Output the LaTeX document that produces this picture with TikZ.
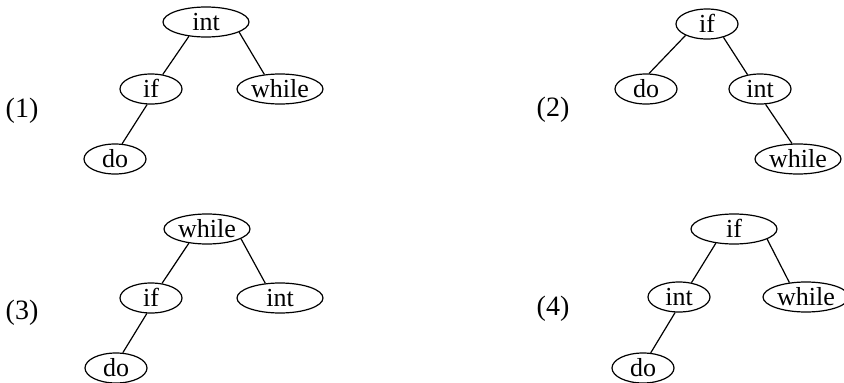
\documentclass[tikz,border=0pt]{standalone}
\usepackage{fontspec}
\setmainfont{Liberation Serif}
\usetikzlibrary{shapes.geometric}
\begin{document}
\begin{tikzpicture}[x=1pt,y=-1pt,
  tn/.style={draw, ellipse, line width=1.2pt, inner sep=0pt, minimum height=30pt,
    font=\fontsize{26}{30}\selectfont, text height=17pt, text depth=0pt},
  wide/.style={tn, minimum width=86pt},
  narrow/.style={tn, minimum width=62pt},
  lbl/.style={font=\fontsize{28}{32}\selectfont, inner sep=0pt},
  edge/.style={line width=1.2pt}]
\useasboundingbox (0,0) rectangle (844,383);

% Tree (1)
\node[lbl] (l1) at (22,111) {(1)};
\node[wide]   (a1) at (206,22)  {int};
\node[narrow] (b1) at (151,89)  {if};
\node[wide]   (c1) at (280,89)  {while};
\node[narrow] (d1) at (115,159) {do};
\draw[edge] (a1.220) -- (b1.51);
\draw[edge] (a1.343) -- (c1.137);
\draw[edge] (b1.256) -- (d1.65);

% Tree (2)
\node[lbl] (l2) at (553,110) {(2)};
\node[narrow] (a2) at (707,24)  {if};
\node[narrow] (b2) at (646,89)  {do};
\node[narrow] (c2) at (760,89)  {int};
\node[wide]   (d2) at (798,159) {while};
\draw[edge] (a2.208) -- (b2.79);
\draw[edge] (a2.321) -- (c2.131);
\draw[edge] (c2.290) -- (d2.111);

% Tree (3)
\node[lbl] (l3) at (22,313) {(3)};
\node[wide]   (a3) at (207,229) {while};
\node[narrow] (b3) at (151,298) {if};
\node[wide]   (c3) at (280,298) {int};
\node[narrow] (d3) at (116,368) {do};
\draw[edge] (a3.218) -- (b3.53);
\draw[edge] (a3.344) -- (c3.135);
\draw[edge] (b3.255) -- (d3.66);

% Tree (4)
\node[lbl] (l4) at (553,309) {(4)};
\node[wide]   (a4) at (734,229) {if};
\node[narrow] (b4) at (679,297) {int};
\node[wide]   (c4) at (806,297) {while};
\node[narrow] (d4) at (643,368) {do};
\draw[edge] (a4.218) -- (b4.49);
\draw[edge] (a4.343) -- (c4.139);
\draw[edge] (b4.256) -- (d4.63);
\end{tikzpicture}
\end{document}
